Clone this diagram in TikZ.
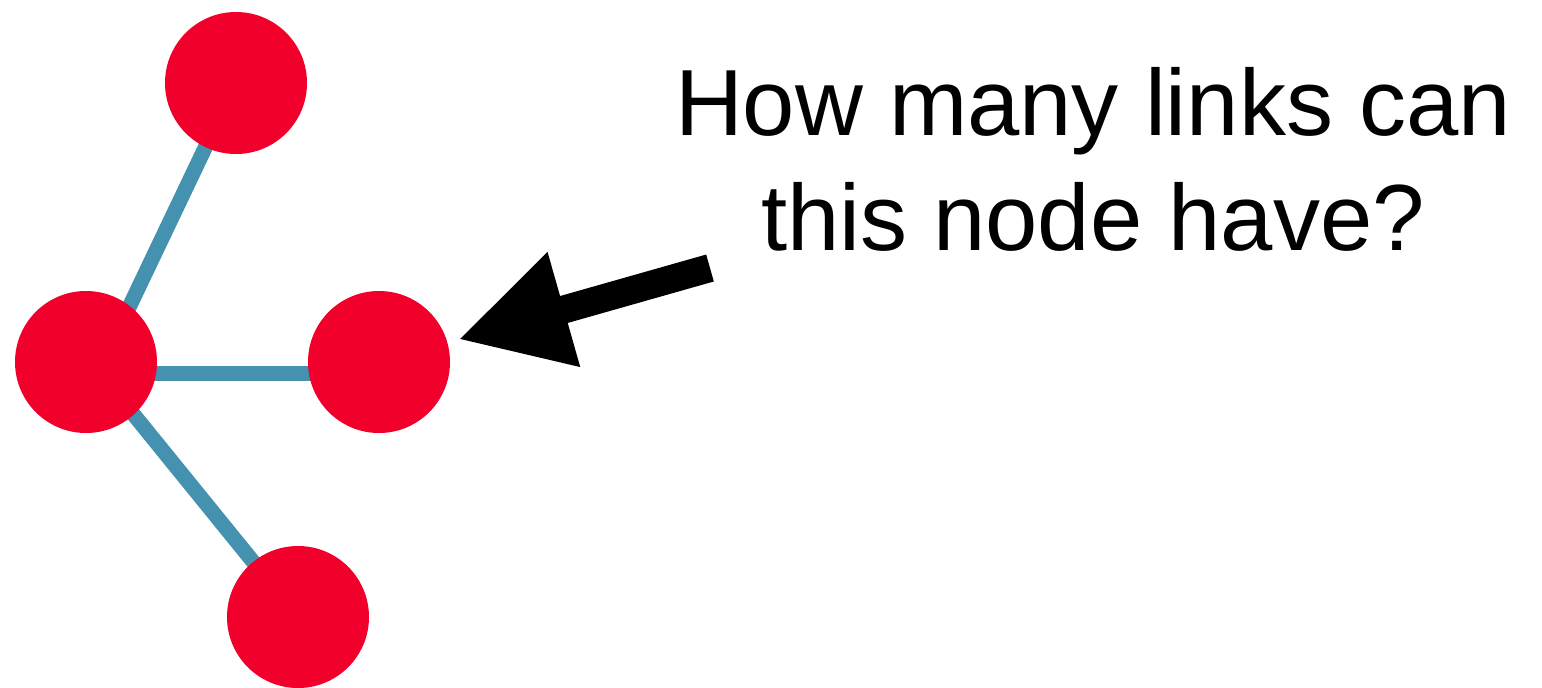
\documentclass[tikz,border=0pt]{standalone}
\usepackage{fontspec}
\setmainfont{Liberation Sans}
\usetikzlibrary{arrows.meta,backgrounds}
\definecolor{nodered}{RGB}{240,0,43}
\definecolor{linkblue}{RGB}{69,145,176}
\begin{document}
\begin{tikzpicture}[x=1pt,y=1pt,
  netnode/.style={circle,fill=nodered,draw=none,minimum size=142pt,inner sep=0pt},
  link/.style={draw=linkblue,line width=15pt},
  pointer/.style={draw=black,line width=28pt,-{Triangle[length=110pt,width=111pt]},shorten >=11pt},
  question/.style={align=center,inner sep=0pt,anchor=base,font=\fontsize{94}{115}\selectfont}]
\useasboundingbox (0,0) rectangle (1542,-688);
\node[netnode] (T) at (236,-83) {};
\node[netnode] (L) at (86,-362) {};
\node[netnode] (R) at (379,-362) {};
\node[netnode] (B) at (298,-617) {};
\begin{scope}[on background layer]
\draw[link] (T.center) -- ([xshift=17pt]L.center);
\draw[link] ([yshift=-11pt]L.center) -- ([yshift=-11pt]R.center);
\draw[link] ([xshift=5pt]L.center) -- (B.center);
\end{scope}
\coordinate (tail) at (710,-268);
\draw[pointer] (tail) -- (R);
\node[question] (q) at (1093,-250) {How many links can\\this node have?};
\end{tikzpicture}
\end{document}
